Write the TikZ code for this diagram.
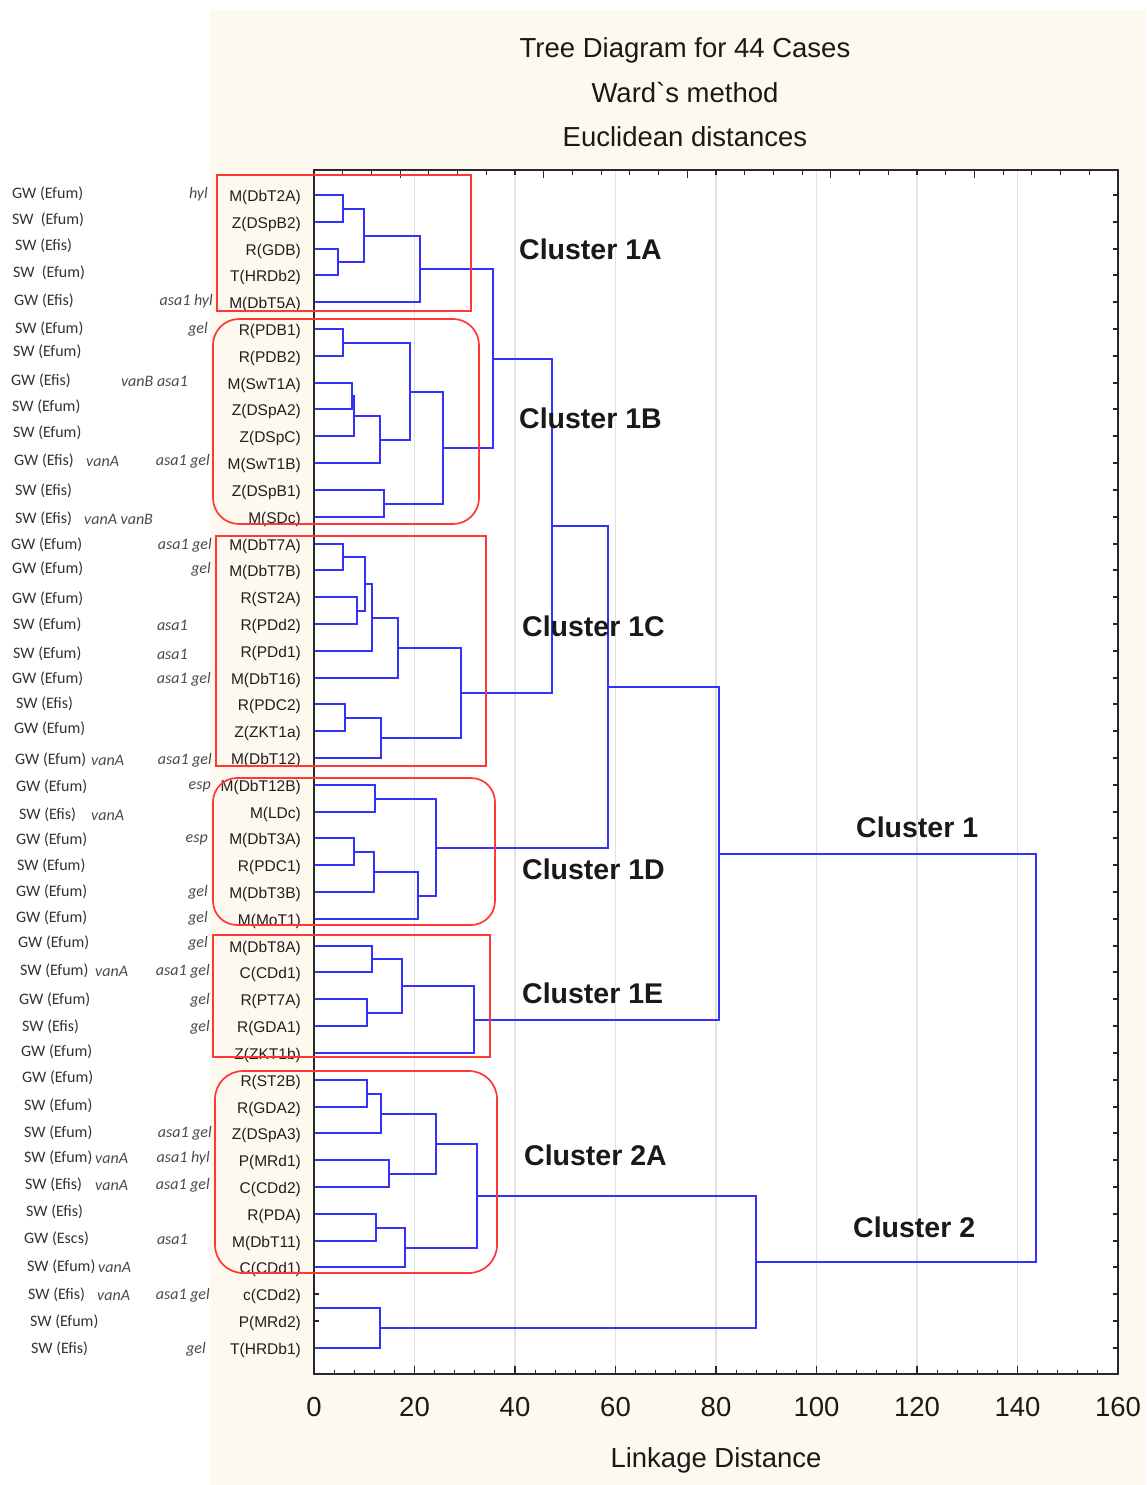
\documentclass[tikz,border=0pt]{standalone}
\usepackage{fontspec}
\setmainfont{Liberation Sans}
\newfontfamily\lsraw[Ligatures=TeXOff]{Liberation Sans}
\newfontfamily\calib{Carlito}
\usetikzlibrary{calc}
\definecolor{cream}{RGB}{253,249,238}
\definecolor{dblue}{RGB}{50,50,255}
\definecolor{bred}{RGB}{255,55,55}
\definecolor{gridc}{RGB}{226,226,226}
\definecolor{ltxt}{RGB}{50,50,50}
\definecolor{gtxt}{RGB}{75,75,75}
\definecolor{axc}{RGB}{40,40,40}
\tikzset{
  den/.style={draw=dblue, line width=1.9pt},
  redbox/.style={draw=bred, line width=1.7pt},
  leaflab/.style={anchor=east, inner sep=0pt, text=black!88, font=\fontsize{15.5}{17}\selectfont},
  srclab/.style={anchor=west, inner sep=0pt, text=ltxt, font=\calib\fontsize{16}{18}\selectfont},
  vanlab/.style={anchor=west, inner sep=0pt, text=gtxt, font=\calib\itshape\fontsize{16}{18}\selectfont},
  genelab/.style={anchor=east, inner sep=0pt, text=gtxt, font=\calib\itshape\fontsize{16}{18}\selectfont},
  clab/.style={anchor=west, inner sep=0pt, text=black!90, font=\bfseries\fontsize{28.5}{32}\selectfont},
  titlab/.style={inner sep=0pt, text=black!90, font=\lsraw\fontsize{27.5}{31}\selectfont},
  ticklab/.style={inner sep=0pt, text=black!90, font=\fontsize{27.5}{31}\selectfont},
}
\newcommand\mrg[4]{%
  \path let \p1=(#2), \p2=(#3), \n1={round(0.5*\y1+0.5*\y2)} in coordinate (#1) at (#4pt,\n1);
  \draw[den] (#2) -- (#2 -| #1) -- (#3 -| #1) -- (#3);}
\begin{document}
\begin{tikzpicture}[x=1pt,y=-1pt]
\useasboundingbox (0,0) rectangle (1146,1485);
\fill[white] (0,0) rectangle (1146,1485);
\fill[cream] (210,10) rectangle (1146,1485);
% plot area
\fill[white] (314,170) rectangle (1118,1374);
\foreach \v in {20,40,...,140}
  \draw[gridc, line width=1.2pt] ({314+\v*5.025},170) -- ({314+\v*5.025},1374);
% title
\node[titlab] (t1) at (685,50) {Tree Diagram for 44 Cases};
\node[titlab] (t2) at (685,93) {Ward`s method};
\node[titlab] (t3) at (685,137) {Euclidean distances};
% leaves
\foreach \i/\t in {1/M(DbT2A),2/Z(DSpB2),3/R(GDB),4/T(HRDb2),5/M(DbT5A),6/R(PDB1),7/R(PDB2),8/M(SwT1A),9/Z(DSpA2),10/Z(DSpC),11/M(SwT1B),12/Z(DSpB1),13/M(SDc),14/M(DbT7A),15/M(DbT7B),16/R(ST2A),17/R(PDd2),18/R(PDd1),19/M(DbT16),20/R(PDC2),21/Z(ZKT1a),22/M(DbT12),23/M(DbT12B),24/M(LDc),25/M(DbT3A),26/R(PDC1),27/M(DbT3B),28/M(MoT1),29/M(DbT8A),30/C(CDd1),31/R(PT7A),32/R(GDA1),33/Z(ZKT1b),34/R(ST2B),35/R(GDA2),36/Z(DSpA3),37/P(MRd1),38/C(CDd2),39/R(PDA),40/M(DbT11),41/C(CDd1),42/c(CDd2),43/P(MRd2),44/T(HRDb1)}{
  \pgfmathsetmacro\yy{round(195+(\i-1)*26.81)}
  \coordinate (a\i) at (314,\yy);
  \node[leaflab] (lab\i) at (301,\yy+2) {\t};
  \draw[axc, line width=1.1pt] (314,\yy) -- (319,\yy);
  \draw[axc, line width=1.1pt] (1118,\yy) -- (1113,\yy);
}
\coordinate (b43) at (314,1308);
% source labels
\foreach \x/\y/\t in {12/192/GW (Efum),12/218/SW\ \ (Efum),15/244/SW (Efis),13/271/SW\ \ (Efum),14/299/GW (Efis),15/327/SW (Efum),13/350/SW (Efum),11/379/GW (Efis),12/405/SW (Efum),13/431/SW (Efum),14/459/GW (Efis),15/489/SW (Efis),15/517/SW (Efis),11/543/GW (Efum),12/567/GW (Efum),12/597/GW (Efum),13/623/SW (Efum),13/652/SW (Efum),12/677/GW (Efum),16/702/SW (Efis),14/727/GW (Efum),15/758/GW (Efum),16/785/GW (Efum),19/813/SW (Efis),16/838/GW (Efum),17/864/SW (Efum),16/890/GW (Efum),16/916/GW (Efum),18/941/GW (Efum),20/969/SW (Efum),19/998/GW (Efum),22/1025/SW (Efis),21/1050/GW (Efum),22/1076/GW (Efum),24/1104/SW (Efum),24/1131/SW (Efum),24/1156/SW (Efum),25/1183/SW (Efis),26/1210/SW (Efis),24/1237/GW (Escs),27/1265/SW (Efum),28/1293/SW (Efis),30/1320/SW (Efum),31/1347/SW (Efis)}
  \node[srclab] at (\x,\y+2) {\t};
% van labels
\foreach \x/\y/\t in {86/459/vanA,84/517/vanA vanB,91/758/vanA,91/813/vanA,95/969/vanA,95/1156/vanA,95/1183/vanA,98/1265/vanA,97/1293/vanA}
  \node[vanlab] at (\x,\y+2) {\t};
% gene labels
\foreach \x/\y/\t in {208/192/hyl,213/299/asa1 hyl,208/327/gel,188/379/vanB asa1,210/459/asa1 gel,212/543/asa1 gel,211/567/gel,188/623/asa1,188/652/asa1,211/677/asa1 gel,212/758/asa1 gel,211/785/esp,208/838/esp,208/890/gel,208/916/gel,208/941/gel,210/969/asa1 gel,210/998/gel,210/1025/gel,212/1131/asa1 gel,210/1156/asa1 hyl,210/1183/asa1 gel,188/1237/asa1,210/1293/asa1 gel,206/1347/gel}
  \node[genelab] at (\x,\y+2) {\t};
% dendrogram
\mrg{mA1}{a1}{a2}{343}
\mrg{mA2}{a3}{a4}{338}
\mrg{mA3}{mA1}{mA2}{364}
\mrg{mA}{mA3}{a5}{420}
\mrg{mB1}{a6}{a7}{343}
\mrg{mB2}{a8}{a9}{352}
\mrg{mB3}{mB2}{a10}{354}
\mrg{mB4}{mB3}{a11}{380}
\mrg{mB5}{mB1}{mB4}{410}
\mrg{mB6}{a12}{a13}{384}
\mrg{mB}{mB5}{mB6}{443}
\mrg{mAB}{mA}{mB}{493}
\mrg{mC1}{a14}{a15}{343}
\mrg{mC2}{a16}{a17}{357}
\mrg{mC3}{mC1}{mC2}{365}
\mrg{mC4}{mC3}{a18}{372}
\mrg{mC5}{mC4}{a19}{398}
\mrg{mC6}{a20}{a21}{345}
\mrg{mC7}{mC6}{a22}{381}
\mrg{mC}{mC5}{mC7}{461}
\mrg{mABC}{mAB}{mC}{552}
\mrg{mD1}{a23}{a24}{375}
\mrg{mD2}{a25}{a26}{354}
\mrg{mD3}{mD2}{a27}{374}
\mrg{mD4}{mD3}{a28}{418}
\mrg{mD}{mD1}{mD4}{436}
\mrg{mABCD}{mABC}{mD}{608}
\mrg{mE1}{a29}{a30}{372}
\mrg{mE2}{a31}{a32}{367}
\mrg{mE3}{mE1}{mE2}{402}
\mrg{mE}{mE3}{a33}{474}
\mrg{mK1}{mABCD}{mE}{719}
\mrg{mF1}{a34}{a35}{367}
\mrg{mF2}{mF1}{a36}{381}
\mrg{mF3}{a37}{a38}{389}
\mrg{mF4}{mF2}{mF3}{436}
\mrg{mF5}{a39}{a40}{376}
\mrg{mF6}{mF5}{a41}{405}
\mrg{mF}{mF4}{mF6}{477}
\mrg{mG}{b43}{a44}{380}
\mrg{mK2}{mF}{mG}{756}
\mrg{mR}{mK1}{mK2}{1036}
% axis ticks
\foreach \k in {1,...,39}{
  \pgfmathsetmacro\xx{314+\k*20.1}
  \pgfmathsetmacro\ll{mod(\k,5)==0 ? 8 : 4.5}
  \draw[axc, line width=1.1pt] (\xx,1374) -- (\xx,1374-\ll);
}
\foreach \k in {1,...,27}{
  \pgfmathsetmacro\xx{314+\k*28.714}
  \pgfmathsetmacro\ll{mod(\k,5)==3 ? 8 : 4.5}
  \draw[axc, line width=1.1pt] (\xx,170) -- (\xx,170+\ll);
}
\draw[axc, line width=1.4pt] (314,170) rectangle (1118,1374);
\foreach \v in {0,20,...,160}
  \node[ticklab] at ({314+\v*5.025},1407) {\v};
\node[ticklab] (xl) at (716,1460) {Linkage Distance};
% cluster boxes
\draw[redbox] (217,175) rectangle (471,311);
\draw[redbox, rounded corners=26pt] (213,319) rectangle (479,524);
\draw[redbox] (216,536) rectangle (486,766);
\draw[redbox, rounded corners=24pt] (213,778) rectangle (495,925);
\draw[redbox] (213,935) rectangle (490,1057);
\draw[redbox, rounded corners=28pt] (215,1071) rectangle (497,1273);
% cluster labels
\node[clab] at (519,249) {Cluster 1A};
\node[clab] at (519,418) {Cluster 1B};
\node[clab] at (522,626) {Cluster 1C};
\node[clab] at (522,869) {Cluster 1D};
\node[clab] at (522,993) {Cluster 1E};
\node[clab] at (524,1155) {Cluster 2A};
\node[clab] at (856,827) {Cluster 1};
\node[clab] at (853,1227) {Cluster 2};
\end{tikzpicture}
\end{document}
